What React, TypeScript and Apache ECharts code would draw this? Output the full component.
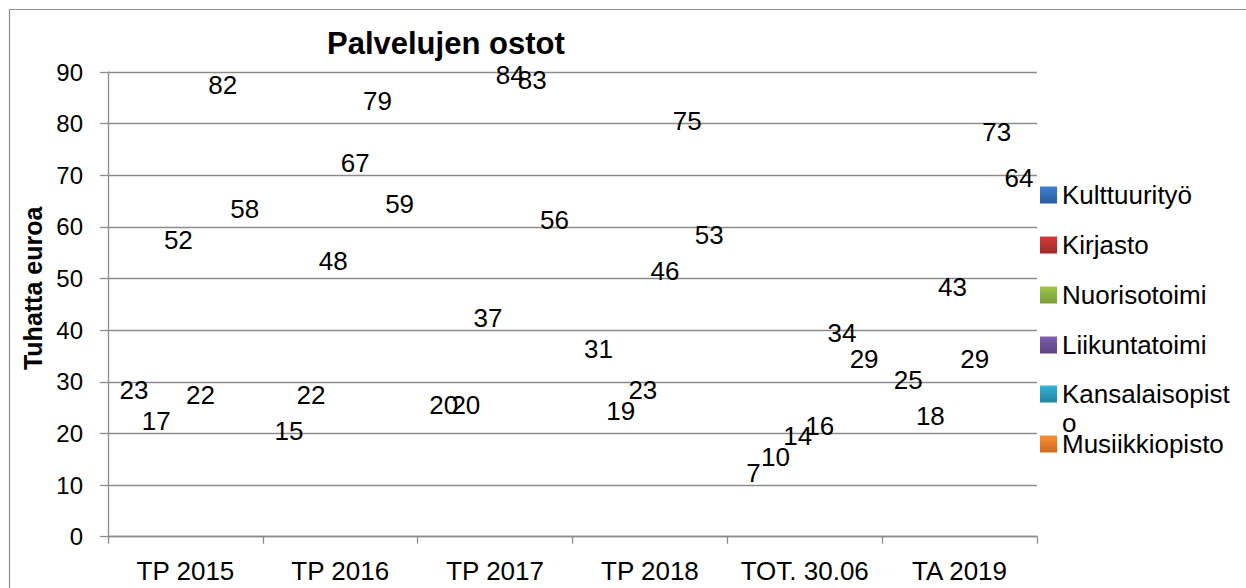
import React, { useEffect, useRef } from 'react';
import * as echarts from 'echarts';

const categories = ['TP 2015', 'TP 2016', 'TP 2017', 'TP 2018', 'TOT. 30.06', 'TA 2019'];
const seriesNames = ['Kulttuurityö', 'Kirjasto', 'Nuorisotoimi', 'Liikuntatoimi', 'Kansalaisopisto', 'Musiikkiopisto'];
const kulttuurityo = [23, 15, 20, 31, 7, 25];
const kirjasto = [17, 22, 20, 19, 10, 18];
const nuorisotoimi = [52, 48, 37, 23, 14, 43];
const liikuntatoimi = [22, 67, 84, 46, 16, 29];
const kansalaisopisto = [82, 79, 83, 75, 34, 73];
const musiikkiopisto = [58, 59, 56, 53, 29, 64];
const seriesValues = [kulttuurityo, kirjasto, nuorisotoimi, liikuntatoimi, kansalaisopisto, musiikkiopisto];
const legendColorsTop = ['#3f80d2', '#d33c3a', '#9fc54e', '#8160ad', '#33b5d8', '#fb9038'];
const legendColorsBottom = ['#2a5b9c', '#9e2a2a', '#7c9b37', '#5d4381', '#21839f', '#cc6a1f'];
const yMin = 0;
const yMax = 90;
const yInterval = 10;

const FONT = '"Liberation Sans", Arial, sans-serif';

export default function App() {
  const ref = useRef<HTMLDivElement>(null);
  useEffect(() => {
    if (!ref.current) return;
    const chart = echarts.init(ref.current, undefined, { renderer: 'svg' });
    const legendCenters = [195, 245, 295, 345, 394, 444];
    const option: any = {
      animation: false,
      backgroundColor: '#ffffff',
      textStyle: { fontFamily: FONT },
      title: {
        text: 'Palvelujen ostot',
        left: 327,
        top: 28,
        padding: 0,
        textStyle: { fontSize: 31, fontWeight: 'bold', color: '#000', fontFamily: FONT },
      },
      graphic: [
        {
          type: 'rect',
          silent: true,
          z: -10,
          shape: { x: 9.5, y: 9.5, width: 1300, height: 700 },
          style: { fill: 'none', stroke: '#8c8c8c', lineWidth: 1.2 },
        },
      ],
      legend: seriesNames.map((name, i) => {
        const special = i === 4;
        return {
          data: [
            {
              name,
              itemStyle: {
                color: new echarts.graphic.LinearGradient(0, 0, 0, 1, [
                  { offset: 0, color: legendColorsTop[i] },
                  { offset: 1, color: legendColorsBottom[i] },
                ]),
              },
            },
          ],
          orient: 'vertical',
          left: 1040,
          top: special ? legendCenters[i] - 43.5 : legendCenters[i] - 13,
          padding: 0,
          itemWidth: 17,
          itemHeight: 17,
          icon: 'rect',
          selectedMode: false,
          formatter: special ? '\nKansalaisopist\no' : '{name}',
          textStyle: special
            ? { fontSize: 26, color: '#000', fontFamily: FONT, lineHeight: 29 }
            : { fontSize: 26, color: '#000', fontFamily: FONT, lineHeight: 26 },
        };
      }),
      grid: { left: 108, right: 209, top: 72, bottom: 51.3, containLabel: false },
      xAxis: {
        type: 'category',
        data: categories,
        axisLine: { show: true, lineStyle: { color: '#8c8c8c', width: 1.3 } },
        axisTick: { show: true, interval: 0, length: 7, lineStyle: { color: '#8c8c8c', width: 1.3 } },
        axisLabel: { interval: 0, margin: 21, fontSize: 26, color: '#000', fontFamily: FONT },
        splitLine: { show: false },
      },
      yAxis: {
        type: 'value',
        min: yMin,
        max: yMax,
        interval: yInterval,
        name: 'Tuhatta euroa',
        nameLocation: 'middle',
        nameGap: 58,
        nameTextStyle: { fontSize: 25, fontWeight: 'bold', color: '#000', fontFamily: FONT, padding: [0, 0, 0, 32] },
        axisLine: { show: true, lineStyle: { color: '#8c8c8c', width: 1.3 } },
        axisTick: { show: true, length: 8, lineStyle: { color: '#8c8c8c', width: 1.3 } },
        axisLabel: { margin: 25, fontSize: 24, color: '#000', fontFamily: FONT, padding: [8, 0, 0, 0] },
        splitLine: { show: true, lineStyle: { color: '#8c8c8c', width: 1.3 } },
      },
      series: seriesNames.map((name, i) => ({
        name,
        type: 'bar',
        data: seriesValues[i],
        barGap: '6%',
        barCategoryGap: '15%',
        itemStyle: { color: 'rgba(0,0,0,0)' },
        label: {
          show: true,
          position: 'top',
          distance: 15,
          offset: [4, 0],
          fontSize: 26,
          color: '#000',
          fontFamily: FONT,
        },
      })),
    };
    chart.setOption(option);
    return () => chart.dispose();
  }, []);
  return (
    <div
      ref={ref}
      style={{ position: 'fixed', left: 0, top: 0, width: 1246, height: 588, background: '#fff' }}
    />
  );
}
